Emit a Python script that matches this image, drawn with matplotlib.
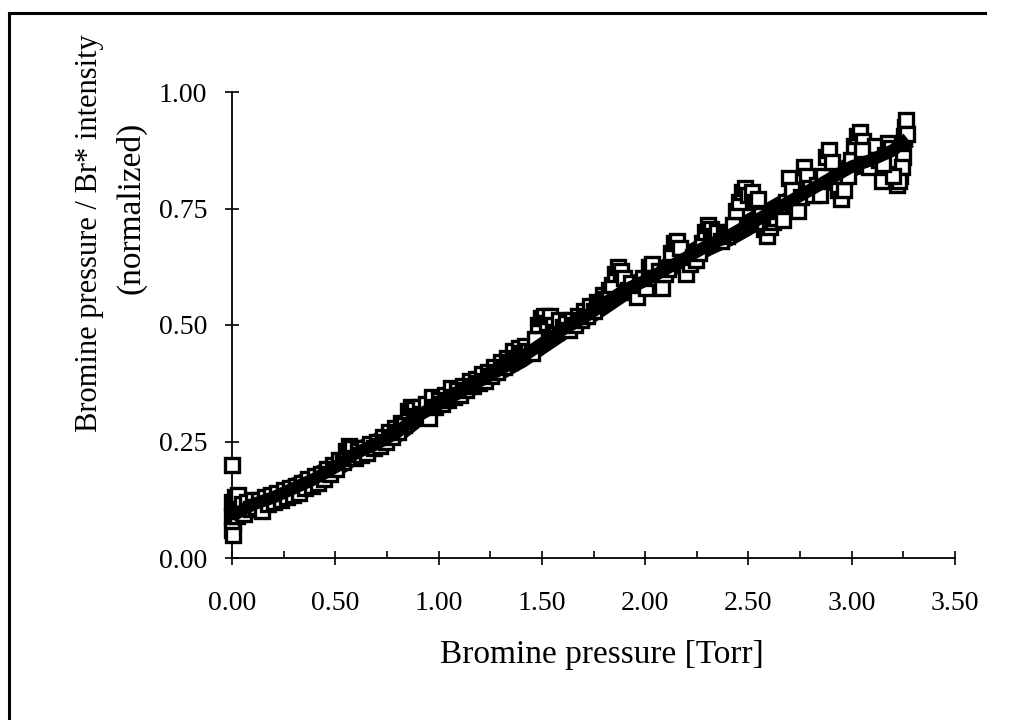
import matplotlib
matplotlib.use('Agg')
import matplotlib.pyplot as plt
from matplotlib.ticker import MultipleLocator, FormatStrFormatter
from matplotlib.lines import Line2D

plt.rcParams['font.family'] = ['Liberation Serif', 'DejaVu Serif']

# dark band (pressure, normalized)
line_x = [0.00, 0.10, 0.20, 0.30, 0.40, 0.50, 0.60, 0.70, 0.80, 0.90,
          1.00, 1.10, 1.20, 1.30, 1.40, 1.50, 1.60, 1.70, 1.80, 1.90,
          2.00, 2.10, 2.20, 2.30, 2.40, 2.50, 2.60, 2.70, 2.80, 2.90,
          3.00, 3.10, 3.20, 3.27]
line_y = [0.09, 0.115, 0.13, 0.15, 0.17, 0.195, 0.225, 0.245, 0.27, 0.305,
          0.33, 0.355, 0.38, 0.405, 0.43, 0.46, 0.49, 0.515, 0.545, 0.575,
          0.595, 0.62, 0.645, 0.67, 0.69, 0.715, 0.74, 0.765, 0.79, 0.815,
          0.84, 0.855, 0.875, 0.90]

# open squares (Br* intensity, normalized)
sq_x = [0.00, 0.00, 0.005, 0.00, 0.005, 0.00, 0.005, 0.01, 0.015, 0.02, 0.025, 0.03, 0.035,
        0.05, 0.06, 0.075, 0.09, 0.10, 0.115, 0.13, 0.145, 0.16, 0.175, 0.19, 0.205,
        0.22, 0.235, 0.25, 0.265, 0.28, 0.295, 0.31, 0.325, 0.34, 0.355, 0.37, 0.385,
        0.40, 0.415, 0.43, 0.445, 0.46, 0.475, 0.49, 0.505, 0.52, 0.535, 0.55, 0.565,
        0.58, 0.595, 0.61, 0.625, 0.64, 0.655, 0.67, 0.685, 0.70, 0.715, 0.73, 0.745,
        0.76, 0.775, 0.79, 0.805, 0.82, 0.835, 0.85, 0.865, 0.88, 0.895, 0.91, 0.925,
        0.94, 0.955, 0.97, 0.985, 1.00, 1.015, 1.03, 1.045, 1.06, 1.075, 1.09, 1.105,
        1.12, 1.135, 1.15, 1.165, 1.18, 1.195, 1.21, 1.225, 1.24, 1.255, 1.27, 1.285,
        1.30, 1.315, 1.33, 1.345, 1.36, 1.375, 1.39, 1.405, 1.42, 1.435, 1.45, 1.465,
        1.48, 1.495, 1.51, 1.525, 1.54, 1.555, 1.57, 1.585, 1.60, 1.615, 1.63, 1.645,
        1.66, 1.675, 1.69, 1.705, 1.72, 1.735, 1.75, 1.765, 1.78, 1.795, 1.81, 1.825,
        1.84, 1.855, 1.87, 1.885, 1.90, 1.915, 1.93, 1.945, 1.96, 1.975, 1.99, 2.005,
        2.02, 2.035, 2.05, 2.065, 2.08, 2.095, 2.11, 2.125, 2.14, 2.155, 2.17, 2.185,
        2.20, 2.215, 2.23, 2.245, 2.26, 2.275, 2.29, 2.305, 2.32, 2.335, 2.35, 2.365,
        2.38, 2.395, 2.41, 2.425, 2.44, 2.455, 2.47, 2.485, 2.50, 2.515, 2.53, 2.545,
        2.56, 2.575, 2.59, 2.605, 2.62, 2.635, 2.65, 2.665, 2.68, 2.695, 2.71, 2.725,
        2.74, 2.755, 2.77, 2.785, 2.80, 2.815, 2.83, 2.845, 2.86, 2.875, 2.89, 2.905,
        2.92, 2.935, 2.95, 2.965, 2.98, 2.995, 3.01, 3.025, 3.04, 3.055, 3.07, 3.085,
        3.10, 3.115, 3.13, 3.145, 3.16, 3.175, 3.19, 3.205, 3.22, 3.235, 3.25, 3.255,
        3.26, 3.265, 3.27, 3.245, 3.23, 3.20, 3.15, 3.05]
sq_y = [0.20, 0.12, 0.105, 0.09, 0.075, 0.06, 0.05, 0.095, 0.13, 0.11, 0.09, 0.135, 0.10,
        0.115, 0.095, 0.12, 0.105, 0.125, 0.11, 0.125, 0.10, 0.13, 0.115, 0.135, 0.12,
        0.14, 0.125, 0.145, 0.13, 0.15, 0.135, 0.155, 0.14, 0.16, 0.15, 0.17, 0.155,
        0.175, 0.16, 0.18, 0.17, 0.19, 0.18, 0.20, 0.19, 0.21, 0.205, 0.23, 0.24,
        0.235, 0.215, 0.23, 0.22, 0.235, 0.225, 0.245, 0.235, 0.25, 0.24, 0.26, 0.25,
        0.27, 0.26, 0.28, 0.27, 0.29, 0.285, 0.315, 0.325, 0.32, 0.305, 0.325, 0.31,
        0.33, 0.30, 0.345, 0.325, 0.34, 0.33, 0.35, 0.34, 0.365, 0.345, 0.36, 0.35,
        0.37, 0.36, 0.38, 0.37, 0.385, 0.375, 0.395, 0.38, 0.40, 0.39, 0.41, 0.40,
        0.42, 0.41, 0.43, 0.42, 0.445, 0.43, 0.45, 0.44, 0.455, 0.445, 0.44, 0.47,
        0.50, 0.515, 0.52, 0.505, 0.52, 0.50, 0.485, 0.51, 0.495, 0.505, 0.49, 0.51,
        0.50, 0.52, 0.51, 0.53, 0.52, 0.54, 0.53, 0.55, 0.545, 0.565, 0.555, 0.575,
        0.585, 0.61, 0.625, 0.615, 0.60, 0.575, 0.59, 0.57, 0.56, 0.585, 0.60, 0.58,
        0.625, 0.63, 0.60, 0.615, 0.58, 0.61, 0.62, 0.655, 0.675, 0.68, 0.665, 0.635,
        0.61, 0.63, 0.645, 0.64, 0.655, 0.675, 0.70, 0.715, 0.705, 0.69, 0.70, 0.68,
        0.695, 0.69, 0.70, 0.715, 0.745, 0.765, 0.785, 0.795, 0.78, 0.785, 0.765, 0.77,
        0.735, 0.705, 0.69, 0.71, 0.72, 0.73, 0.745, 0.725, 0.765, 0.815, 0.79, 0.76,
        0.745, 0.775, 0.84, 0.82, 0.795, 0.78, 0.80, 0.78, 0.82, 0.86, 0.875, 0.85,
        0.81, 0.79, 0.77, 0.79, 0.82, 0.855, 0.885, 0.905, 0.915, 0.895, 0.86, 0.84,
        0.87, 0.885, 0.855, 0.81, 0.865, 0.89, 0.88, 0.855, 0.80, 0.82, 0.86, 0.905,
        0.925, 0.94, 0.91, 0.84, 0.81, 0.82, 0.845, 0.875]

W, H = 1014, 720
fig = plt.figure(figsize=(W / 100, H / 100), dpi=100)
ax = fig.add_axes([232 / W, 1 - 558 / H, (955 - 232) / W, (558 - 92) / H])

ax.plot(line_x, line_y, color='black', lw=15, zorder=2, solid_capstyle='butt')
ax.plot(sq_x, sq_y, 's', mfc='white', mec='black', ms=9.5, mew=2.4, clip_on=False, zorder=3)
ax.plot(line_x, line_y, color='black', lw=9, zorder=4, solid_capstyle='butt')

ax.set_xlim(0, 3.5)
ax.set_ylim(0, 1)
for s in ['top', 'right']:
    ax.spines[s].set_visible(False)
for s in ['left', 'bottom']:
    ax.spines[s].set_linewidth(1.3)

ax.xaxis.set_major_locator(MultipleLocator(0.5))
ax.xaxis.set_minor_locator(MultipleLocator(0.25))
ax.yaxis.set_major_locator(MultipleLocator(0.25))
ax.xaxis.set_major_formatter(FormatStrFormatter('%.2f'))
ax.yaxis.set_major_formatter(FormatStrFormatter('%.2f'))
ax.tick_params(axis='x', which='major', direction='inout', length=10, width=1.2, labelsize=20, pad=19)
ax.tick_params(axis='x', which='minor', direction='in', length=5, width=1.2)
ax.tick_params(axis='y', which='major', direction='inout', length=10, width=1.2, labelsize=20, pad=13)

fig.text(602 / W, 1 - 655 / H, 'Bromine pressure [Torr]', fontsize=24, ha='center', va='center')

fig.text(90 / W, 1 - 432 / H, 'Bromine pressure / Br* intensity', fontsize=22,
         rotation=90, ha='center', va='bottom')
fig.text(131 / W, 1 - 208 / H, '(normalized)', fontsize=24, rotation=90, ha='center', va='center')

# outer frame (left and top edges)
fig.add_artist(Line2D([9 / W, 9 / W], [0, 1 - 13 / H], transform=fig.transFigure, color='black', lw=2.2))
fig.add_artist(Line2D([9 / W, 985 / W], [1 - 13 / H, 1 - 13 / H], transform=fig.transFigure, color='black', lw=2.2))

fig.savefig('out.png', dpi=100)
